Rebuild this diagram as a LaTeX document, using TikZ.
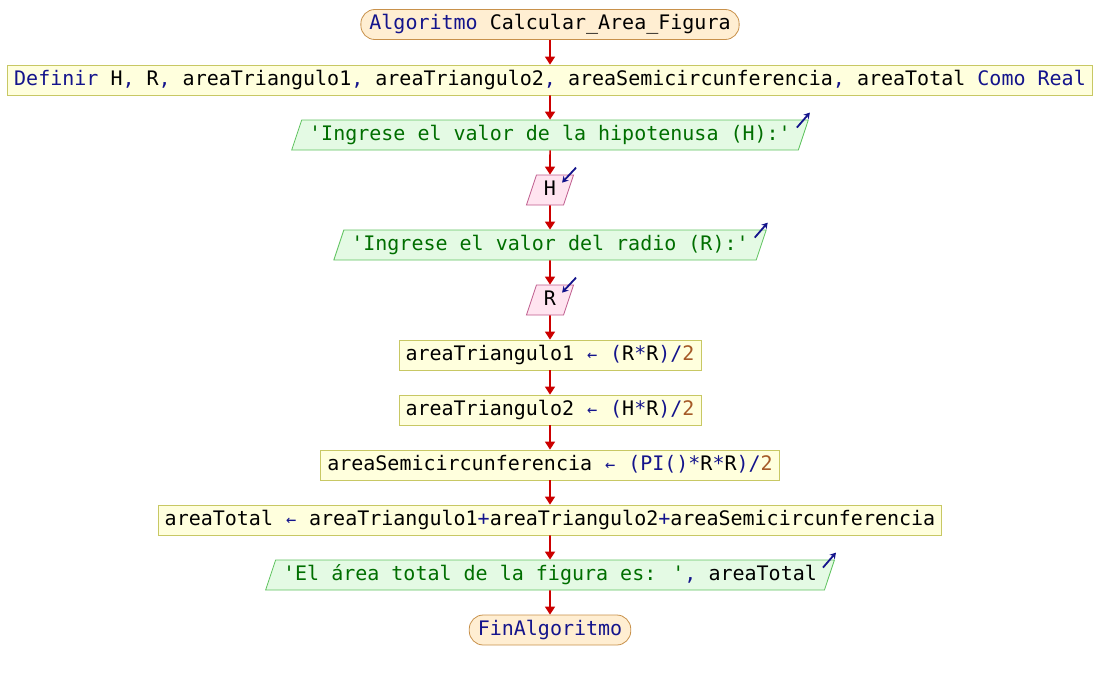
\documentclass[tikz,border=0pt]{standalone}
\usepackage{fontspec}
\usetikzlibrary{shapes.geometric,arrows.meta,calc}
\newfontfamily\codefont{DejaVu Sans Mono}

\definecolor{kwc}{RGB}{20,20,140}
\definecolor{strc}{RGB}{0,110,0}
\definecolor{numc}{RGB}{165,90,40}
\definecolor{flowc}{RGB}{204,0,0}
\definecolor{procfill}{RGB}{255,255,221}
\definecolor{procdraw}{RGB}{200,200,100}
\definecolor{outfill}{RGB}{228,250,228}
\definecolor{outdraw}{RGB}{95,195,95}
\definecolor{infill}{RGB}{255,228,240}
\definecolor{indraw}{RGB}{190,90,140}
\definecolor{termfill}{RGB}{255,238,210}
\definecolor{termdraw}{RGB}{200,145,75}

\newcommand{\kwd}[1]{\textcolor{kwc}{#1}}
\newcommand{\strg}[1]{\textcolor{strc}{#1}}
\newcommand{\numb}[1]{\textcolor{numc}{#1}}
\newcommand{\asg}{\textcolor{kwc}{\makebox[12pt]{\fontsize{17}{17}\selectfont ←}}}
\newcommand{\q}{\textquotesingle}

\tikzset{
  box/.style={font=\codefont\fontsize{20}{24}\selectfont, text height=14pt,
    text depth=4pt, inner ysep=6pt, line width=0.8pt},
  term/.style={box, rectangle, rounded corners=14pt, inner xsep=8.5pt,
    fill=termfill, draw=termdraw},
  proc/.style={box, rectangle, inner xsep=6.5pt, fill=procfill, draw=procdraw},
  para/.style={box, trapezium, trapezium left angle=71.57,
    trapezium right angle=108.43, inner xsep=7.5pt},
  outp/.style={para, fill=outfill, draw=outdraw},
  inp/.style={para, fill=infill, draw=indraw},
  flow/.style={draw=flowc, line width=1.6pt,
    -{Triangle[width=10pt,length=8pt]}},
  icon/.style={draw=kwc, line width=1.8pt, -{Stealth[length=6pt,width=7pt]}}
}

\begin{document}
\begin{tikzpicture}[x=1pt,y=-1pt]
  \useasboundingbox (0,0) rectangle (1100,680);

  \node[term] (ini) at (550,24.5) {\kwd{Algoritmo} Calcular\_Area\_Figura};
  \node[proc] (def) at (550,80) {\kwd{Definir} H\kwd{,} R\kwd{,} areaTriangulo1\kwd{,} areaTriangulo2\kwd{,} areaSemicircunferencia\kwd{,} areaTotal \kwd{Como Real}};
  \node[outp] (o1) at (550,135) {\strg{\q Ingrese el valor de la hipotenusa (H):\q}};
  \node[inp] (lh) at (550,190) {H};
  \node[outp] (o2) at (550,245) {\strg{\q Ingrese el valor del radio (R):\q}};
  \node[inp] (lr) at (550,300) {R};
  \node[proc] (a1) at (550,355) {areaTriangulo1 \asg{} \kwd{(}R\kwd{*}R\kwd{)/}\numb{2}};
  \node[proc] (a2) at (550,410) {areaTriangulo2 \asg{} \kwd{(}H\kwd{*}R\kwd{)/}\numb{2}};
  \node[proc] (a3) at (550,465) {areaSemicircunferencia \asg{} \kwd{(PI()*}R\kwd{*}R\kwd{)/}\numb{2}};
  \node[proc] (a4) at (550,520) {areaTotal \asg{} areaTriangulo1\kwd{+}areaTriangulo2\kwd{+}areaSemicircunferencia};
  \node[outp] (o3) at (550,575) {\strg{\q El área total de la figura es: \q}\kwd{,} areaTotal};
  \node[term] (fin) at (550,630) {\kwd{FinAlgoritmo}};

  % flow connectors
  \foreach \a/\b in {ini/def, def/o1, o1/lh, lh/o2, o2/lr, lr/a1, a1/a2, a2/a3, a3/a4, a4/o3, o3/fin}
    \draw[flow] (\a.south) -- (\b.north);

  % output markers
  \foreach \n in {o1, o2, o3}
    \draw[icon] ($(\n.top right corner)+(-12,8)$) -- ($(\n.top right corner)+(1,-7)$);
  % input markers
  \foreach \n in {lh, lr}
    \draw[icon] ($(\n.top right corner)+(2,-7)$) -- ($(\n.top right corner)+(-12,8)$);
\end{tikzpicture}
\end{document}
